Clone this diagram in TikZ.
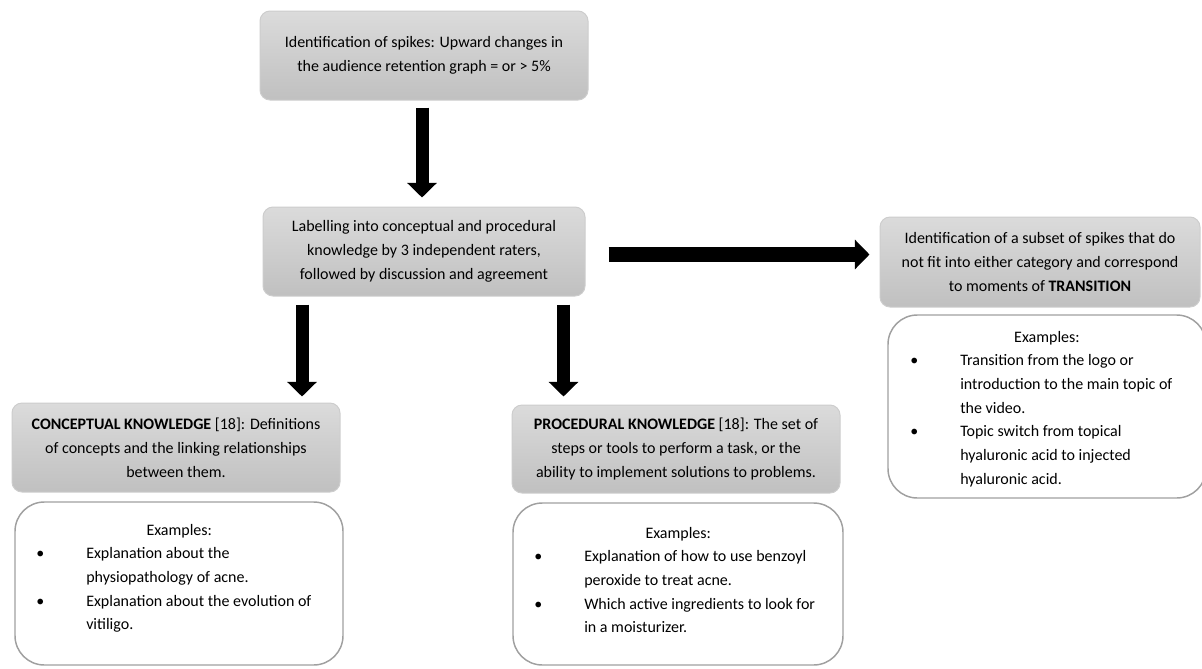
\documentclass[tikz,border=0pt]{standalone}
\usepackage{fontspec}
\setmainfont{Carlito}
\usetikzlibrary{arrows.meta,fit,calc}
\definecolor{gtop}{HTML}{DBDBDB}
\definecolor{gbot}{HTML}{C0C0C0}
\definecolor{gline}{HTML}{CDCDCD}
\definecolor{eline}{HTML}{A0A0A0}
\newcommand\exbul{\leavevmode\llap{\makebox[0pt]{•}\hspace{34.5pt}}}
\tikzset{
  graybox/.style={draw=gline, line width=0.75pt, rounded corners=7.5pt, top color=gtop, bottom color=gbot, inner sep=0pt, align=center, font=\fontsize{12}{18}\selectfont, minimum height=66.75pt},
  exbox/.style={draw=eline, line width=1.1pt, rounded corners=22pt, fill=white, inner sep=0pt},
  extext/.style={anchor=base west, inner sep=0pt, font=\fontsize{12}{17.8}\selectfont},
  bigarrow/.style={line width=9.75pt, -{Triangle[length=11pt,width=21.75pt]}},
}
\begin{document}
\begin{tikzpicture}[x=0.75pt,y=-0.75pt]
\useasboundingbox (0,0) rectangle (1202,668);

% gray boxes
\node[graybox, minimum width=246pt] (top) at (424,55.5) {Identification of spikes: Upward changes in\\the audience retention graph = or > 5\%};
\node[graybox, minimum width=241.5pt] (mid) at (424,251.5) {Labelling into conceptual and procedural\\knowledge by 3 independent raters,\\followed by discussion and agreement};
\node[graybox, minimum width=240pt, minimum height=67.5pt] (trans) at (1040,262) {Identification of a subset of spikes that do\\not fit into either category and correspond\\to moments of \textbf{TRANSITION}};
\node[graybox, minimum width=246pt] (conc) at (176,447.5) {\textbf{CONCEPTUAL KNOWLEDGE} [18]: Definitions\\of concepts and the linking relationships\\between them.};
\node[graybox, minimum width=246pt, minimum height=66pt] (proc) at (676,449) {\textbf{PROCEDURAL KNOWLEDGE} [18]: The set of\\steps or tools to perform a task, or the\\ability to implement solutions to problems.};

% example boxes
\node[exbox, fit={(15,502)(343,665)}] (concex) {};
\node[exbox, fit={(513,503)(843,665)}] (procex) {};
\node[exbox, fit={(888,315)(1206,498)}] (transex) {};

\node[extext] (concext) at (15,535) {\begin{minipage}[t]{400pt}\makebox[246pt][c]{Examples:}\par\leftskip=53.25pt
\exbul Explanation about the\\physiopathology of acne.\par
\exbul Explanation about the evolution of\\vitiligo.\end{minipage}};

\node[extext] (procext) at (513,538) {\begin{minipage}[t]{400pt}\makebox[247.5pt][c]{Examples:}\par\leftskip=53.25pt
\exbul Explanation of how to use benzoyl\\peroxide to treat acne.\par
\exbul Which active ingredients to look for\\in a moisturizer.\end{minipage}};

\node[extext] (transext) at (888,342) {\begin{minipage}[t]{400pt}\makebox[238pt][c]{Examples:}\par\leftskip=54pt
\exbul Transition from the logo or\\introduction to the main topic of\\the video.\par
\exbul Topic switch from topical\\hyaluronic acid to injected\\hyaluronic acid.\end{minipage}};

% arrow anchor points
\coordinate (a1) at ($(top.south)+(-2,0)$);
\coordinate (a2) at ($(mid.south west)+(39.5,0)$);
\coordinate (a3) at ($(mid.south east)+(-22,0)$);
\coordinate (a4) at ($(mid.east)+(0,3)$);

% arrows
\draw[bigarrow, shorten <=5.25pt, shorten >=6.75pt] (a1) -- (a1 |- mid.north);
\draw[bigarrow, shorten <=6pt, shorten >=4.5pt] (a2) -- (a2 |- conc.north);
\draw[bigarrow, shorten <=6pt, shorten >=6pt] (a3) -- (a3 |- proc.north);
\draw[bigarrow, line width=11.25pt, shorten <=17.25pt, shorten >=7.5pt] (a4) -- (a4 -| trans.west);
\end{tikzpicture}
\end{document}
